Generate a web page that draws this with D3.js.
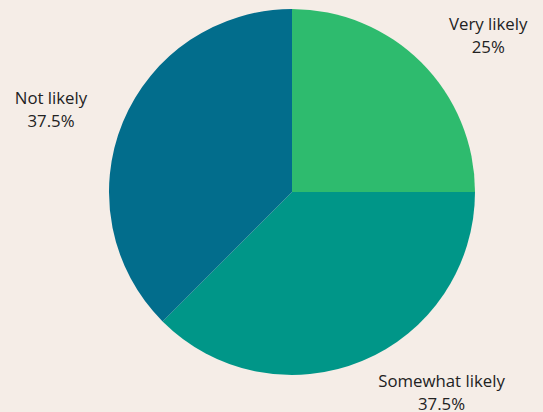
<!DOCTYPE html>
<html>
<head>
<meta charset="UTF-8">
<title>Pie chart</title>
<style>
  html, body { margin: 0; padding: 0; background: #f5ede7; }
  #canvas { width: 543px; height: 412px; }
  .label { font-family: "Open Sans", "Noto Sans", sans-serif; font-size: 16.8px; fill: #222; }
</style>
<script src="https://cdn.jsdelivr.net/npm/d3@7/dist/d3.min.js"></script>
</head>
<body>
<div id="canvas"></div>
<script>
// data
var categories = ["Very likely", "Somewhat likely", "Not likely"];
var shares = [25, 37.5, 37.5];
var valueLabels = ["25%", "37.5%", "37.5%"];

// layout
var width = 543, height = 412;
var cx = 292, cy = 192, radius = 183;
var colors = ["#2ebb6e", "#009688", "#026d8c"];
// label placement: angle shift (deg) from the slice middle, and distance from centre
var labelShift = [7.6, -13.4, -4.8];
var labelDist = [247, 255, 253];

var svg = d3.select("#canvas").append("svg")
  .attr("width", width)
  .attr("height", height);

var g = svg.append("g")
  .attr("transform", "translate(" + cx + "," + cy + ")");

var pie = d3.pie().sort(null).value(function(d) { return d; });
var arcs = pie(shares);
var arc = d3.arc().innerRadius(0).outerRadius(radius);

g.selectAll("path")
  .data(arcs)
  .enter().append("path")
  .attr("d", arc)
  .attr("fill", function(d, i) { return colors[i]; });

var labels = g.selectAll(".label")
  .data(arcs)
  .enter().append("text")
  .attr("class", "label")
  .attr("text-anchor", "middle")
  .attr("transform", function(d, i) {
    var a = (d.startAngle + d.endAngle) / 2 + labelShift[i] * Math.PI / 180;
    var r = labelDist[i];
    return "translate(" + (Math.sin(a) * r) + "," + (-Math.cos(a) * r) + ")";
  });

labels.append("tspan")
  .attr("x", 0)
  .attr("y", -11.5)
  .text(function(d, i) { return categories[i]; });

labels.append("tspan")
  .attr("x", 0)
  .attr("y", 11.5)
  .text(function(d, i) { return valueLabels[i]; });
</script>
</body>
</html>
